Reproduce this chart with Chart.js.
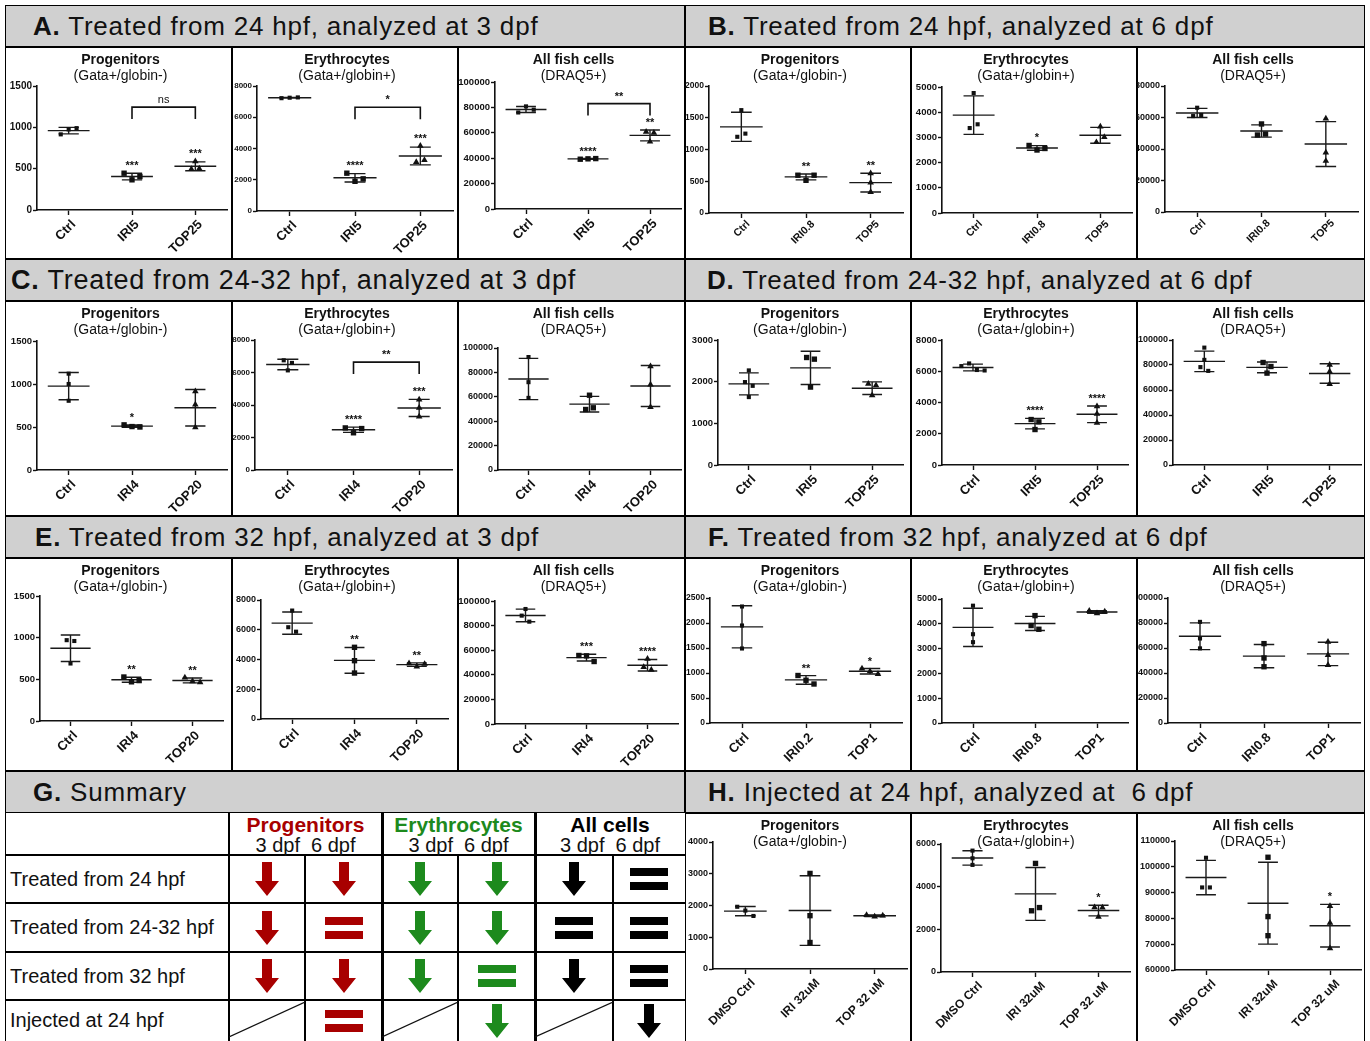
<!DOCTYPE html>
<html>
<head>
<meta charset="utf-8">
<script src="https://cdn.jsdelivr.net/npm/chart.js@4.4.1/dist/chart.umd.min.js"></script>
<style>
  body { margin: 0; background: #fff; font-family: "Liberation Sans", Arial, Helvetica, sans-serif; }
  #page { position: relative; width: 1370px; height: 1041px; overflow: hidden; background: #fff; }
  .box { position: absolute; border: 1px solid #000; box-sizing: border-box; background: #fff; }
  .box canvas { position: absolute; left: -1px; top: -1px; }
  .hdr { position: absolute; background: #d0d0d0; border: 1px solid #000; box-sizing: border-box;
         font-size: 26px; letter-spacing: 0.8px; color: #111; display: flex; align-items: center; white-space: pre; }
  .ln { position: absolute; background: #000; }
  .txt { position: absolute; white-space: pre; color: #111; }
  .cell { position: absolute; display: flex; align-items: center; justify-content: center; }
</style>
</head>
<body>
<div id="page"></div>
<script>
// ---------- data ----------
const catsA = ['Ctrl', 'IRI5', 'TOP25'];
const catsB = ['Ctrl', 'IRI0.8', 'TOP5'];
const catsC = ['Ctrl', 'IRI4', 'TOP20'];
const catsF1 = ['Ctrl', 'IRI0.2', 'TOP1'];
const catsF2 = ['Ctrl', 'IRI0.8', 'TOP1'];
const catsH = ['DMSO Ctrl', 'IRI 32uM', 'TOP 32 uM'];

// replicate values per group (Ctrl, IRI, TOP)
const aProg = [[915, 975, 990], [445, 365, 405], [590, 495, 500]];
const aEry  = [[7220, 7250, 7270], [2420, 1900, 2060], [4170, 3130, 3260]];
const aAll  = [[76000, 80800, 78200], [39200, 39500, 39700], [60800, 60000, 53000]];

const bProg = [[1620, 1200, 1250], [595, 515, 595], [625, 480, 330]];
const bEry  = [[4760, 3370, 3520], [2680, 2500, 2560], [3430, 2810, 3010]];
const bAll  = [[66200, 60900, 61600], [55900, 48900, 49500], [59300, 37700, 32400]];

const cProg = [[1120, 1000, 805], [525, 505, 500], [915, 760, 495]];
const cEry  = [[6750, 6590, 6130], [2590, 2290, 2550], [4340, 3830, 3290]];
const cAll  = [[92600, 72000, 59100], [61300, 49600, 51000], [85000, 70000, 51500]];

const dProg = [[2270, 1990, 1900, 1630], [2580, 2540, 1870], [1950, 1910, 1670]];
const dEry  = [[6330, 6500, 6080, 6050], [2910, 2760, 2270], [3760, 3270, 2700]];
const dAll  = [[93900, 84100, 78300, 75300], [82000, 78800, 73500], [80100, 74800, 64700]];

const eProg = [[970, 960, 690], [528, 470, 485], [520, 475, 465]];
const eEry  = [[7290, 6170, 5870], [4820, 3920, 3090], [3740, 3520, 3700]];
const eAll  = [[93500, 88100, 83200], [55700, 55400, 50800], [53000, 46200, 44100]];

const fProg = [[2330, 1950, 1490], [950, 855, 780], [1090, 1035, 980]];
const fEry  = [[4730, 3580, 3260], [4330, 3930, 3780], [4520, 4420, 4490]];
const fAll  = [[80900, 67600, 59700], [63500, 52000, 45000], [65000, 54400, 46400]];

const hProg = [[1960, 1840, 1670], [3010, 1680, 835], [1700, 1650, 1680]];
const hEry  = [[5690, 5330, 5020], [5090, 2870, 3020], [3030, 3020, 2590]];
const hAll  = [[103500, 92000, 92000], [103700, 80700, 73300], [84800, 78300, 68400]];

// significance marks above each group, bracket label between groups 2 and 3
const aStars = [['', '***', '***'], ['', '****', '***'], ['', '****', '**']];
const aBrackets = ['ns', '*', '**'];
const bStars = [['', '**', '**'], ['', '*', ''], ['', '', '']];
const cStars = [['', '*', ''], ['', '****', '***'], ['', '', '']];
const cBrackets = [null, '**', null];
const dStars = [['', '', ''], ['', '****', '****'], ['', '', '']];
const eStars = [['', '**', '**'], ['', '**', '**'], ['', '***', '****']];
const fStars = [['', '**', '*'], ['', '', ''], ['', '', '']];
const hStars = [['', '', ''], ['', '', '*'], ['', '', '*']];

// y axes: [min, max, step]
const yRowA = [[0, 1500, 500], [0, 8000, 2000], [0, 100000, 20000]];
const yRowB = [[0, 2000, 500], [0, 5000, 1000], [0, 80000, 20000]];
const yRowD = [[0, 3000, 1000], [0, 8000, 2000], [0, 100000, 20000]];
const yRowF = [[0, 2500, 500], [0, 5000, 1000], [0, 100000, 20000]];
const yRowH = [[0, 4000, 1000], [0, 6000, 2000], [60000, 110000, 10000]];

const titles = [['Progenitors', '(Gata+/globin-)'], ['Erythrocytes', '(Gata+/globin+)'], ['All fish cells', '(DRAQ5+)']];

// summary table
const sumRows = ['Treated from 24 hpf', 'Treated from 24-32 hpf', 'Treated from 32 hpf', 'Injected at 24 hpf'];
const sumGroups = ['Progenitors', 'Erythrocytes', 'All cells'];
const sumDays = '3 dpf  6 dpf';
// d = decrease, e = unchanged, n = not done
const sumProg = [['d', 'd'], ['d', 'e'], ['d', 'd'], ['n', 'e']];
const sumEry  = [['d', 'd'], ['d', 'd'], ['d', 'e'], ['n', 'd']];
const sumAll  = [['d', 'e'], ['e', 'e'], ['d', 'e'], ['n', 'd']];

// ---------- layout ----------
const FONT = '"Liberation Sans", Arial, Helvetica, sans-serif';
Chart.defaults.font.family = FONT;
Chart.defaults.color = '#111';
Chart.defaults.animation = false;

const colsX = [5, 232, 458, 685, 911, 1137, 1365];
const rowsY = [[5, 47, 259], [259, 301, 516], [516, 558, 771], [771, 813, 1048]];

const page = document.getElementById('page');
function addDiv(cls, x, y, w, h) {
  const d = document.createElement('div');
  d.className = cls;
  Object.assign(d.style, { left: x + 'px', top: y + 'px', width: w + 'px', height: h + 'px' });
  page.appendChild(d);
  return d;
}

const headers = [
  ['A.', 'Treated from 24 hpf, analyzed at 3 dpf', 0, 0, 27],
  ['B.', 'Treated from 24 hpf, analyzed at 6 dpf', 0, 1, 22],
  ['C.', 'Treated from 24-32 hpf, analyzed at 3 dpf', 1, 0, 5],
  ['D.', 'Treated from 24-32 hpf, analyzed at 6 dpf', 1, 1, 21],
  ['E.', 'Treated from 32 hpf, analyzed at 3 dpf', 2, 0, 29],
  ['F.', 'Treated from 32 hpf, analyzed at 6 dpf', 2, 1, 22],
  ['G.', 'Summary', 3, 0, 27],
  ['H.', 'Injected at 24 hpf, analyzed at  6 dpf', 3, 1, 22]
];
headers.forEach(([lab, text, r, half, pad]) => {
  const x0 = half ? 685 : 5;
  const d = addDiv('hdr', x0, rowsY[r][0], 680, rowsY[r][1] - rowsY[r][0]);
  d.style.paddingLeft = pad + 'px';
  if (lab === 'C.') d.style.fontSize = '27px';
  d.innerHTML = '<b>' + lab + '</b> ' + text;
});

// ---------- chart helpers ----------
const mean = a => a.reduce((s, v) => s + v, 0) / a.length;
const sd = a => { const m = mean(a); return Math.sqrt(a.reduce((s, v) => s + (v - m) * (v - m), 0) / (a.length - 1)); };

// spread points that sit on top of each other sideways
function spread(g, span) {
  const idx = g.map((v, j) => j).sort((a, b) => g[a] - g[b]);
  const off = g.map(() => 0);
  let cl = [idx[0]];
  const flush = () => {
    cl.sort((a, b) => a - b).forEach((j, k) => { off[j] = (k - (cl.length - 1) / 2) * 0.125; });
  };
  for (let k = 1; k < idx.length; k++) {
    if (g[idx[k]] - g[idx[k - 1]] < span * 0.05) cl.push(idx[k]);
    else { flush(); cl = [idx[k]]; }
  }
  flush();
  return off;
}

const panelTitle = {
  id: 'panelTitle',
  afterDraw(chart, args, o) {
    if (!o.lines) return;
    const ctx = chart.ctx;
    ctx.save();
    ctx.fillStyle = '#111';
    ctx.textAlign = 'center';
    ctx.textBaseline = 'middle';
    const cx = chart.width / 2 + 2;
    ctx.font = 'bold 14px ' + FONT;
    ctx.fillText(o.lines[0], cx, o.y0);
    ctx.font = '14px ' + FONT;
    ctx.fillText(o.lines[1], cx, o.y0 + 16);
    ctx.restore();
  }
};

const groupMarks = {
  id: 'groupMarks',
  beforeDatasetsDraw(chart, args, o) {
    if (!o.vals) return;
    const ctx = chart.ctx, x = chart.scales.x, y = chart.scales.y;
    ctx.save();
    ctx.strokeStyle = '#1a1a1a';
    ctx.lineWidth = 1.4;
    o.vals.forEach((g, i) => {
      const m = mean(g), s = sd(g);
      const xc = x.getPixelForValue(i);
      const hw = x.getPixelForValue(i + 0.33) - xc;
      const cw = x.getPixelForValue(i + 0.16) - xc;
      const ym = y.getPixelForValue(m), yh = y.getPixelForValue(m + s), yl = y.getPixelForValue(m - s);
      ctx.beginPath();
      ctx.moveTo(xc - hw, ym); ctx.lineTo(xc + hw, ym);
      ctx.moveTo(xc, yh); ctx.lineTo(xc, yl);
      ctx.moveTo(xc - cw, yh); ctx.lineTo(xc + cw, yh);
      ctx.moveTo(xc - cw, yl); ctx.lineTo(xc + cw, yl);
      ctx.stroke();
    });
    ctx.restore();
  },
  afterDatasetsDraw(chart, args, o) {
    if (!o.vals) return;
    const ctx = chart.ctx, x = chart.scales.x, y = chart.scales.y, ca = chart.chartArea;
    ctx.save();
    ctx.fillStyle = '#111';
    ctx.strokeStyle = '#111';
    ctx.textAlign = 'center';
    ctx.textBaseline = 'alphabetic';
    ctx.font = 'bold 11px ' + FONT;
    o.stars.forEach((st, i) => {
      if (!st) return;
      const g = o.vals[i];
      const top = Math.max(mean(g) + sd(g), Math.max(...g));
      ctx.fillText(st, x.getPixelForValue(i), y.getPixelForValue(top) - 4);
    });
    if (o.bracket) {
      const by = ca.top + 0.17 * (ca.bottom - ca.top);
      const x1 = x.getPixelForValue(1), x2 = x.getPixelForValue(2);
      ctx.lineWidth = 1.6;
      ctx.beginPath();
      ctx.moveTo(x1, by + 12); ctx.lineTo(x1, by); ctx.lineTo(x2, by); ctx.lineTo(x2, by + 12);
      ctx.stroke();
      ctx.font = (o.bracket === 'ns' ? '' : 'bold ') + '11px ' + FONT;
      ctx.fillText(o.bracket, (x1 + x2) / 2, by - 4);
    }
    ctx.restore();
  }
};
Chart.register(panelTitle, groupMarks);

// chart area inside each box: [axis x, top, bottom, right]; xf/yf tick font sizes, xo label shift
const panels = [
  { r: 0, c: 0, vals: aProg, cats: catsA, stars: aStars[0], br: aBrackets[0], y: yRowA[0], area: [32, 39, 163, 222], xf: 13, yf: 10, xo: 5 },
  { r: 0, c: 1, vals: aEry, cats: catsA, stars: aStars[1], br: aBrackets[1], y: yRowA[1], area: [25, 39, 164, 221], xf: 13, yf: 8, xo: 5 },
  { r: 0, c: 2, vals: aAll, cats: catsA, stars: aStars[2], br: aBrackets[2], y: yRowA[2], area: [37, 35, 162, 224], xf: 13, yf: 9.5, xo: 5 },
  { r: 0, c: 3, vals: bProg, cats: catsB, stars: bStars[0], y: yRowB[0], area: [24, 39, 166, 218], xf: 10.5, yf: 8.5, xo: 7 },
  { r: 0, c: 4, vals: bEry, cats: catsB, stars: bStars[1], y: yRowB[1], area: [31, 40, 166, 221], xf: 10.5, yf: 9.5, xo: 7 },
  { r: 0, c: 5, vals: bAll, cats: catsB, stars: bStars[2], y: yRowB[2], area: [28, 39, 165, 221], xf: 10.5, yf: 9, xo: 7 },
  { r: 1, c: 0, vals: cProg, cats: catsC, stars: cStars[0], y: yRowA[0], area: [32, 40, 169, 222], xf: 13, yf: 9.5, xo: 5 },
  { r: 1, c: 1, vals: cEry, cats: catsC, stars: cStars[1], br: cBrackets[1], y: yRowA[1], area: [23, 39, 169, 220], xf: 13, yf: 8, xo: 5 },
  { r: 1, c: 2, vals: cAll, cats: catsC, stars: cStars[2], y: yRowA[2], area: [40, 47, 169, 225], xf: 13, yf: 9, xo: 5 },
  { r: 1, c: 3, vals: dProg, cats: catsA, stars: dStars[0], y: yRowD[0], area: [33, 39, 164, 218], xf: 13, yf: 9.5, xo: 5 },
  { r: 1, c: 4, vals: dEry, cats: catsA, stars: dStars[1], y: yRowD[1], area: [31, 39, 164, 217], xf: 13, yf: 9.5, xo: 5 },
  { r: 1, c: 5, vals: dAll, cats: catsA, stars: dStars[2], y: yRowD[2], area: [36, 39, 164, 226], xf: 13, yf: 9, xo: 5 },
  { r: 2, c: 0, vals: eProg, cats: catsC, stars: eStars[0], y: yRowA[0], area: [35, 38, 163, 218], xf: 13, yf: 9.5, xo: 5 },
  { r: 2, c: 1, vals: eEry, cats: catsC, stars: eStars[1], y: yRowA[1], area: [29, 42, 161, 216], xf: 13, yf: 9, xo: 5 },
  { r: 2, c: 2, vals: eAll, cats: catsC, stars: eStars[2], y: yRowA[2], area: [37, 43, 166, 220], xf: 13, yf: 9.5, xo: 5 },
  { r: 2, c: 3, vals: fProg, cats: catsF1, stars: fStars[0], y: yRowF[0], area: [25, 40, 165, 217], xf: 13, yf: 8.5, xo: 5 },
  { r: 2, c: 4, vals: fEry, cats: catsF2, stars: fStars[1], y: yRowF[1], area: [31, 41, 165, 217], xf: 13, yf: 9, xo: 5 },
  { r: 2, c: 5, vals: fAll, cats: catsF2, stars: fStars[2], y: yRowF[2], area: [31, 40, 165, 223], xf: 13, yf: 9, xo: 5 },
  { r: 3, c: 3, vals: hProg, cats: catsH, stars: hStars[0], y: yRowH[0], area: [28, 29, 156, 222], xf: 12, yf: 9, xo: 8 },
  { r: 3, c: 4, vals: hEry, cats: catsH, stars: hStars[1], y: yRowH[1], area: [30, 31, 159, 219], xf: 12, yf: 9, xo: 8 },
  { r: 3, c: 5, vals: hAll, cats: catsH, stars: hStars[2], y: yRowH[2], area: [38, 28, 157, 226], xf: 12, yf: 9, xo: 8 }
];

const markers = ['rect', 'rect', 'triangle'];
const radii = [2.9, 3.8, 3.8];

panels.forEach(p => {
  const x0 = colsX[p.c], w = colsX[p.c + 1] - x0;
  const y0 = rowsY[p.r][1], h = rowsY[p.r][2] - y0;
  const box = addDiv('box', x0, y0, w, h);
  const cv = document.createElement('canvas');
  cv.width = w; cv.height = h;
  cv.style.width = w + 'px'; cv.style.height = h + 'px';
  box.appendChild(cv);
  const [L, T, B, R] = p.area;
  const [ymin, ymax, ystep] = p.y;
  const axisStyle = {
    grid: { drawOnChartArea: false, drawTicks: true, tickLength: 4, tickColor: '#111', tickWidth: 1.4 },
    border: { display: true, color: '#111', width: 1.6 }
  };
  new Chart(cv, {
    type: 'scatter',
    data: {
      datasets: p.vals.map((g, i) => {
        const off = spread(g, ymax - ymin);
        return {
          data: g.map((v, j) => ({ x: i + off[j], y: v })),
          pointStyle: markers[i],
          pointRadius: radii[i],
          pointBackgroundColor: '#111',
          pointBorderColor: '#111',
          pointBorderWidth: 0,
          clip: false
        };
      })
    },
    options: {
      responsive: false,
      devicePixelRatio: 1,
      layout: { padding: { left: 0, top: T, right: w - R, bottom: 0 } },
      plugins: {
        legend: { display: false },
        tooltip: { enabled: false },
        panelTitle: { lines: titles[p.c % 3], y0: 13 },
        groupMarks: { vals: p.vals, stars: p.stars, bracket: p.br }
      },
      scales: {
        x: {
          type: 'linear', min: -0.5, max: 2.5,
          afterBuildTicks: s => { s.ticks = [0, 1, 2].map(v => ({ value: v })); },
          afterFit: s => { s.height = h - B; },
          ticks: {
            autoSkip: false, minRotation: 45, maxRotation: 45, padding: p.r === 0 && p.c > 2 ? 0 : 2,
            labelOffset: p.xo, color: '#111',
            font: { size: p.xf, weight: 'bold' },
            callback: (v, i) => p.cats[i]
          },
          grid: Object.assign({}, axisStyle.grid, { tickLength: 5 }),
          border: axisStyle.border
        },
        y: {
          min: ymin, max: ymax,
          afterFit: s => { s.width = L; },
          ticks: { stepSize: ystep, padding: 1, color: '#111', font: { size: p.yf, weight: 'bold' }, callback: v => String(v) },
          grid: axisStyle.grid,
          border: axisStyle.border
        }
      }
    }
  });
});

// ---------- summary table (G) ----------
const sumX = [5, 229, 305, 382, 458, 535, 613, 685];
const sumY = [813, 855, 903, 952, 1000, 1046];
const groupColors = ['#a80000', '#1d8a1d', '#000'];
const sumData = [sumProg, sumEry, sumAll];

addDiv('box', 5, 813, 681, 240).style.borderTop = 'none';
[855, 903, 952, 1000].forEach(y => addDiv('ln', 5, y - 1, 680, 2));
addDiv('ln', 228, 813, 2, 240);
[382, 535].forEach(x => addDiv('ln', x - 1, 813, 3, 240));
[305, 458, 613].forEach(x => addDiv('ln', x - 1, 855, 2, 200));

sumGroups.forEach((name, g) => {
  const xa = sumX[1 + 2 * g], xb = sumX[3 + 2 * g];
  const t = addDiv('txt', xa, 814, xb - xa, 22);
  Object.assign(t.style, { textAlign: 'center', fontWeight: 'bold', fontSize: '21px', lineHeight: '21px', color: groupColors[g] });
  t.textContent = name;
  const d = addDiv('txt', xa, 835, xb - xa, 20);
  Object.assign(d.style, { textAlign: 'center', fontSize: '20px', lineHeight: '20px' });
  d.textContent = sumDays;
});

const symbol = {
  d: c => `<svg width="24" height="34"><polygon points="7,0 17,0 17,19 24,19 12,34 0,19 7,19" fill="${c}"/></svg>`,
  e: c => `<svg width="38" height="22"><rect x="0" y="0" width="38" height="8" fill="${c}"/><rect x="0" y="14" width="38" height="8" fill="${c}"/></svg>`
};

sumRows.forEach((label, r) => {
  const ya = sumY[r + 1], yb = sumY[r + 2];
  const t = addDiv('txt', 10, ya, 218, yb - ya);
  Object.assign(t.style, { fontSize: '20px', lineHeight: (yb - ya) + 'px' });
  if (r === 3) t.style.lineHeight = '40px';
  t.textContent = label;
  sumData.forEach((grp, g) => {
    grp[r].forEach((v, k) => {
      const xa = sumX[1 + 2 * g + k], xb = sumX[2 + 2 * g + k];
      if (v === 'n') {
        const c = addDiv('txt', xa, ya, xb - xa, 40);
        c.innerHTML = `<svg width="${xb - xa}" height="40"><line x1="0" y1="37" x2="${xb - xa}" y2="2" stroke="#111" stroke-width="1.3"/></svg>`;
        return;
      }
      const c = addDiv('cell', xa, ya, xb - xa, r === 3 ? 42 : yb - ya);
      c.innerHTML = symbol[v](groupColors[g]);
    });
  });
});
</script>
</body>
</html>
